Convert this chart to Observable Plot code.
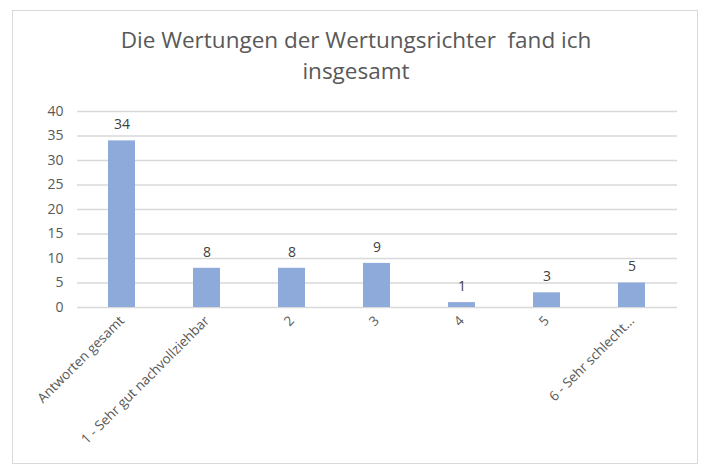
<!DOCTYPE html>
<html>
<head>
<meta charset="utf-8">
<script src="https://cdn.jsdelivr.net/npm/d3@7"></script>
<script src="https://cdn.jsdelivr.net/npm/@observablehq/plot@0.6"></script>
<style>
  html, body { margin: 0; padding: 0; background: #fff; }
  #frame { position: absolute; left: 12px; top: 10px; width: 686px; height: 454px; border: 1px solid #d9d9d9; box-sizing: border-box; }
  #title { position: absolute; left: 0; top: 24px; width: 712px; text-align: center; font-family: "Open Sans", sans-serif; font-size: 22.5px; line-height: 31px; color: #595959; white-space: pre; }
  #chart { position: absolute; left: 0; top: 95px; }
</style>
</head>
<body>
<div id="frame"></div>
<div id="title">Die Wertungen der Wertungsrichter  fand ich
insgesamt</div>
<div id="chart"></div>
<script>
const categories = ["Antworten gesamt", "1 - Sehr gut nachvollziehbar", "2", "3", "4", "5", "6 - Sehr schlecht..."];
const values = [34, 8, 8, 9, 1, 3, 5];
const yTicks = [0, 5, 10, 15, 20, 25, 30, 35, 40];

const data = categories.map((c, i) => ({category: c, value: values[i]}));

const chart = Plot.plot({
  width: 712,
  height: 374,
  marginTop: 16,
  marginBottom: 162,
  marginLeft: 77,
  marginRight: 35,
  style: {fontFamily: "Open Sans, sans-serif", background: "transparent", color: "#595959"},
  x: {domain: categories, paddingInner: 0.68, paddingOuter: 0.34, label: null},
  y: {domain: [0, 40], label: null},
  marks: [
    Plot.gridY(yTicks, {stroke: "#d9d9d9", strokeOpacity: 1, strokeWidth: 1.5}),
    Plot.barY(data, {x: "category", y: "value", fill: "#8eaadb"}),
    Plot.text(data, {x: "category", y: "value", text: d => String(d.value), dy: -16, fontSize: 14, fill: "#404040"}),
    Plot.axisY(yTicks, {tickSize: 0, tickPadding: 14, fontSize: 14, fill: "#595959", label: null}),
    Plot.axisX({tickSize: 0, tickPadding: 11, tickRotate: -45, fontSize: 13.5, fill: "#595959", label: null})
  ]
});
document.getElementById("chart").appendChild(chart);
</script>
</body>
</html>
